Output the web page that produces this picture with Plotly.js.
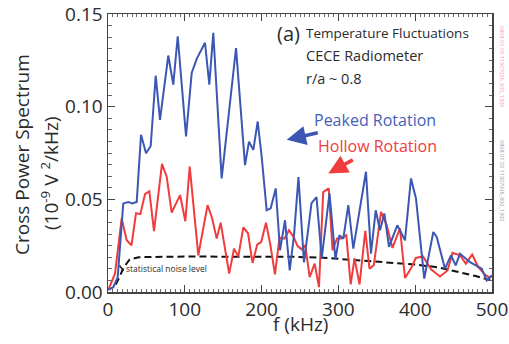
<!DOCTYPE html>
<html>
<head>
<meta charset="utf-8">
<script src="https://cdn.plot.ly/plotly-3.0.1.min.js"></script>
<style>
html,body{margin:0;padding:0;background:#fff;}
#chart{width:509px;height:344px;}
</style>
</head>
<body>
<div id="chart"></div>
<script>
// Peaked rotation (blue)
var peakedF = [0.4, 6.9, 12.6, 19.9, 26.4, 31.6, 37.4, 43.0, 49.5, 55.6, 62.1, 67.7, 78.5, 85.0, 90.8, 101.6, 109.0, 115.5, 126.3, 131.9, 137.1, 148.0, 166.7, 178.4, 183.6, 189.2, 194.9, 200.1, 206.6, 211.8, 218.4, 224.0, 230.5, 236.6, 242.2, 248.0, 255.2, 265.0, 271.5, 278.3, 288.4, 296.2, 301.2, 306.4, 312.9, 319.4, 335.9, 342.4, 348.6, 354.2, 359.8, 365.9, 376.7, 386.7, 394.5, 401.0, 411.8, 423.6, 428.0, 438.8, 446.6, 452.7, 458.3, 471.4, 486.6, 493.1, 499.6];
var peakedV = [0.0012, 0.0026, 0.0080, 0.0478, 0.0486, 0.0478, 0.0486, 0.0848, 0.0749, 0.0788, 0.1167, 0.0929, 0.1276, 0.1119, 0.1380, 0.0839, 0.1182, 0.1258, 0.1345, 0.1119, 0.1399, 0.0613, 0.1316, 0.0685, 0.0811, 0.0767, 0.0920, 0.0730, 0.0441, 0.0451, 0.0559, 0.0225, 0.0387, 0.0116, 0.0306, 0.0620, 0.0160, 0.0479, 0.0512, 0.0181, 0.0532, 0.0176, 0.0306, 0.0288, 0.0469, 0.0234, 0.0649, 0.0207, 0.0441, 0.0333, 0.0424, 0.0243, 0.0360, 0.0279, 0.0613, 0.0505, 0.0072, 0.0324, 0.0297, 0.0126, 0.0198, 0.0144, 0.0207, 0.0161, 0.0126, 0.0062, 0.0089];

// Hollow rotation (red)
var hollowF = [0.4, 9.1, 17.8, 24.3, 30.6, 36.5, 42.1, 48.2, 53.8, 59.9, 70.3, 76.4, 82.9, 93.8, 100.7, 106.4, 117.6, 129.6, 135.4, 141.5, 146.7, 157.8, 164.1, 169.7, 176.2, 182.3, 188.2, 194.3, 199.6, 205.7, 211.3, 217.4, 223.3, 229.8, 235.7, 242.2, 246.7, 251.9, 256.9, 262.6, 269.1, 274.7, 280.2, 287.4, 292.3, 298.2, 303.8, 310.3, 316.0, 321.0, 327.5, 335.0, 340.5, 346.1, 355.5, 362.9, 370.4, 380.2, 386.7, 395.4, 400.8, 410.2, 420.6, 432.3, 442.1, 448.6, 458.3, 465.9, 474.2, 482.2, 490.9, 496.7, 500];
var hollowV = [0.0012, 0.0099, 0.0397, 0.0279, 0.0252, 0.0425, 0.0420, 0.0528, 0.0544, 0.0328, 0.0691, 0.0622, 0.0428, 0.0523, 0.0382, 0.0677, 0.0198, 0.0469, 0.0401, 0.0288, 0.0374, 0.0099, 0.0234, 0.0192, 0.0348, 0.0317, 0.0157, 0.0256, 0.0271, 0.0374, 0.0257, 0.0095, 0.0293, 0.0288, 0.0333, 0.0293, 0.0249, 0.0230, 0.0252, 0.0080, 0.0153, 0.0026, 0.0539, 0.0559, 0.0225, 0.0288, 0.0288, 0.0306, 0.0041, 0.0181, 0.0041, 0.0330, 0.0126, 0.0144, 0.0432, 0.0360, 0.0238, 0.0344, 0.0076, 0.0134, 0.0184, 0.0192, 0.0122, 0.0084, 0.0116, 0.0211, 0.0198, 0.0153, 0.0202, 0.0134, 0.0094, 0.0076, 0.0089];

// Statistical noise level (black dashed)
var noiseF = [10, 15, 20, 28, 40, 80, 120, 160, 200, 240, 280, 320, 360, 400, 430, 455, 480, 500];
var noiseV = [0.004, 0.008, 0.013, 0.0175, 0.0188, 0.0192, 0.0192, 0.019, 0.0192, 0.019, 0.0185, 0.0172, 0.016, 0.0148, 0.0133, 0.0107, 0.0085, 0.006];

// Tick labels
var xTickVals = [0, 100, 200, 300, 400, 500];
var xTickText = ['0', '100', '200', '300', '400', '500'];
var yTickVals = [0, 0.05, 0.10, 0.15];
var yTickText = ['0.00', '0.05', '0.10', '0.15'];

var blue = '#3c57b3';
var red = '#f03c3c';
var textCol = '#2b2b2b';
var FONT = 'Open Sans, Liberation Sans, sans-serif';

var traces = [
  {x: noiseF, y: noiseV, type: 'scatter', mode: 'lines', line: {color: '#111', width: 2, dash: '7px,4px'}, hoverinfo: 'skip'},
  {x: hollowF, y: hollowV, type: 'scatter', mode: 'lines', line: {color: red, width: 2}, hoverinfo: 'skip'},
  {x: peakedF, y: peakedV, type: 'scatter', mode: 'lines', line: {color: blue, width: 2}, hoverinfo: 'skip'}
];

var L = 108, T = 14, W = 384, H = 278;
function px(p) { return (p - L) / W; }
function py(p) { return (T + H - p) / H; }

var ann = [
  {text: 'Cross Power Spectrum', xref: 'paper', yref: 'paper', x: px(22), y: py(155), textangle: -90, showarrow: false, xanchor: 'center', yanchor: 'middle', font: {size: 19, color: textCol, family: FONT}},
  {text: '(10<sup>-9</sup> V <sup>2</sup>/kHz)', xref: 'paper', yref: 'paper', x: px(50), y: py(173), textangle: -90, showarrow: false, xanchor: 'center', yanchor: 'middle', font: {size: 19, color: textCol, family: FONT}},
  {text: 'f (kHz)', xref: 'paper', yref: 'paper', x: px(300), y: py(324), showarrow: false, xanchor: 'center', yanchor: 'middle', font: {size: 19, color: textCol, family: FONT}},
  {text: '(a)', xref: 'paper', yref: 'paper', x: px(288), y: py(33), showarrow: false, xanchor: 'center', yanchor: 'middle', font: {size: 20, color: textCol, family: FONT}},
  {text: 'Temperature Fluctuations', xref: 'paper', yref: 'paper', x: px(304), y: py(33), showarrow: false, xanchor: 'left', yanchor: 'middle', font: {size: 13.5, color: textCol, family: FONT}},
  {text: 'CECE Radiometer', xref: 'paper', yref: 'paper', x: px(304), y: py(56), showarrow: false, xanchor: 'left', yanchor: 'middle', font: {size: 14.5, color: textCol, family: FONT}},
  {text: 'r/a ~ 0.8', xref: 'paper', yref: 'paper', x: px(304), y: py(78), showarrow: false, xanchor: 'left', yanchor: 'middle', font: {size: 14.5, color: textCol, family: FONT}},
  // labels carrying their arrows: text box sits at the arrow tail, arrow head at (x, y)
  {text: 'Peaked Rotation', xref: 'x', yref: 'y', x: 232.7, y: 0.0821, axref: 'pixel', ayref: 'pixel', ax: 88, ay: -20,
   showarrow: true, arrowhead: 2, arrowsize: 1.1, arrowwidth: 3.5, arrowcolor: blue, standoff: 0, startstandoff: 2,
   xanchor: 'center', yanchor: 'middle', font: {size: 16, color: '#4560b8', family: FONT}},
  {text: 'Hollow Rotation', xref: 'x', yref: 'y', x: 286.8, y: 0.064, axref: 'pixel', ayref: 'pixel', ax: 49, ay: -27,
   showarrow: true, arrowhead: 2, arrowsize: 1.1, arrowwidth: 3.5, arrowcolor: red, standoff: 0, startstandoff: 2,
   xanchor: 'center', yanchor: 'middle', font: {size: 16, color: red, family: FONT}},
  {text: 'statistical noise level', xref: 'paper', yref: 'paper', x: px(124), y: py(268.5), showarrow: false, xanchor: 'left', yanchor: 'middle', font: {size: 8.5, color: textCol, family: FONT}},
  // side stamps
  {text: '0808 01 03 11307006_800_1300', xref: 'paper', yref: 'paper', x: px(502), y: py(66), textangle: 90, showarrow: false, xanchor: 'center', yanchor: 'middle', font: {size: 5.5, color: '#f2a0a0', family: FONT}},
  {text: '0808 01 03 11307006_800_1300', xref: 'paper', yref: 'paper', x: px(502), y: py(180), textangle: 90, showarrow: false, xanchor: 'center', yanchor: 'middle', font: {size: 5.5, color: '#9a9a9a', family: FONT}}
];

var shapes = [
  // tiny pointer from the noise label to the dashed curve
  {type: 'line', xref: 'paper', yref: 'paper', x0: px(123.5), y0: py(271), x1: px(119.5), y1: py(265.5), line: {color: '#222', width: 1.5}}
];

var layout = {
  width: 509, height: 344,
  margin: {l: L, r: 509 - L - W, t: T, b: 344 - T - H, pad: 0},
  paper_bgcolor: '#fff', plot_bgcolor: '#fff',
  showlegend: false,
  font: {family: FONT, color: textCol},
  xaxis: {
    range: [0, 500], tickvals: xTickVals, ticktext: xTickText,
    ticks: 'inside', ticklen: 7, tickwidth: 1.2, tickcolor: '#444',
    showline: true, linecolor: '#444', linewidth: 1.5, mirror: 'allticks',
    showgrid: false, zeroline: false,
    tickfont: {size: 19, color: textCol, family: FONT},
    minor: {dtick: 6.25, ticks: 'inside', ticklen: 3, tickwidth: 1, tickcolor: '#666', showgrid: false}
  },
  yaxis: {
    range: [0, 0.15], tickvals: yTickVals, ticktext: yTickText,
    ticks: 'inside', ticklen: 7, tickwidth: 1.2, tickcolor: '#444',
    showline: true, linecolor: '#444', linewidth: 1.5, mirror: 'allticks',
    showgrid: false, zeroline: false,
    tickfont: {size: 19, color: textCol, family: FONT},
    minor: {dtick: 0.00625, ticks: 'inside', ticklen: 3.5, tickwidth: 1, tickcolor: '#666', showgrid: false}
  },
  annotations: ann,
  shapes: shapes
};

Plotly.newPlot('chart', traces, layout, {staticPlot: true, displayModeBar: false});
</script>
</body>
</html>
